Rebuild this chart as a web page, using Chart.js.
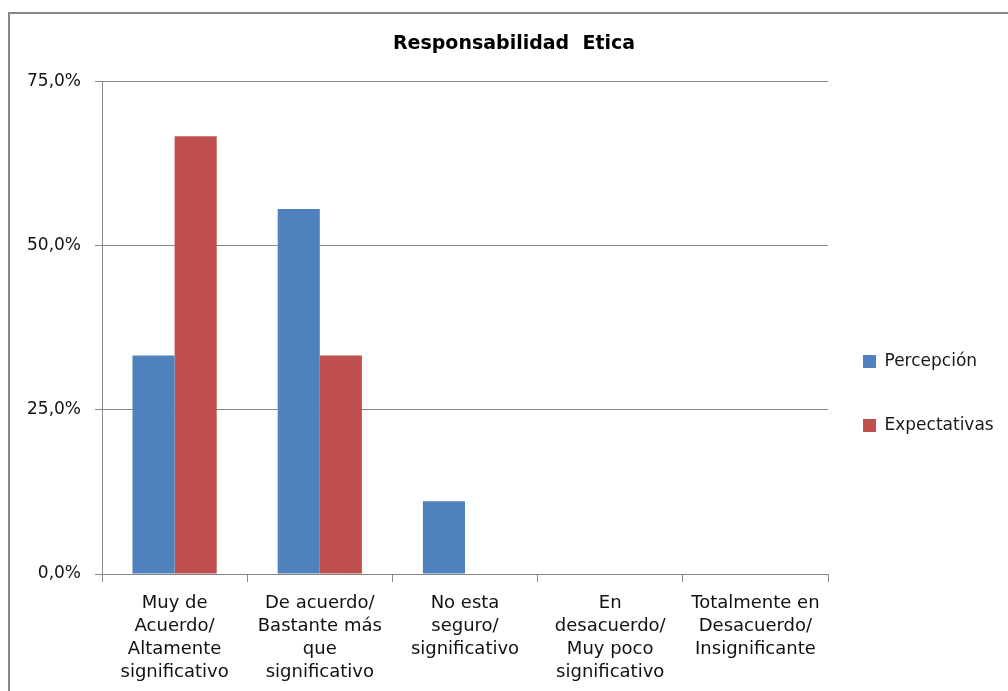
<!DOCTYPE html>
<html>
<head>
<meta charset="utf-8">
<script src="https://cdn.jsdelivr.net/npm/chart.js@4"></script>
<style>
  html, body { margin: 0; padding: 0; background: #fff; }
  #wrap { width: 1008px; height: 691px; }
</style>
</head>
<body>
<div id="wrap"><canvas id="myChart" width="1008" height="691"></canvas></div>
<script>
const categories = [
    ['Muy de', 'Acuerdo/', 'Altamente', 'significativo'],
    ['De acuerdo/', 'Bastante más', 'que', 'significativo'],
    ['No esta', 'seguro/', 'significativo'],
    ['En', 'desacuerdo/', 'Muy poco', 'significativo'],
    ['Totalmente en', 'Desacuerdo/', 'Insignificante']
]
const percepcion = [33.3, 55.6, 11.1, 0, 0]
const expectativas = [66.7, 33.3, 0, 0, 0]
const yTicks = [0, 25, 50, 75]

const gridColor = '#868686'
const fontFamily = "'DejaVu Sans', sans-serif"

// grey frame round the chart (left and top edges show in the picture)
const framePlugin = {
    id: 'frame',
    beforeDraw: function(chart) {
        const ctx = chart.ctx
        ctx.save()
        ctx.strokeStyle = '#878787'
        ctx.lineWidth = 2
        ctx.beginPath()
        ctx.moveTo(9, 691)
        ctx.lineTo(9, 13)
        ctx.lineTo(1008, 13)
        ctx.stroke()
        ctx.restore()
    }
}

// nudge legend toward the plot and down, like the original
const legendNudge = {
    id: 'legendNudge',
    afterLayout: function(chart) {
        if (chart.legend) {
            chart.legend.left -= 12
            chart.legend.right -= 12
            chart.legend.top += 38
            chart.legend.bottom += 38
        }
    }
}

const ctx = document.getElementById('myChart')
const myChart = new Chart(ctx, {
    type: 'bar',
    data: {
        labels: categories,
        datasets: [{
            label: 'Percepción',
            data: percepcion,
            backgroundColor: '#4F81BD',
            categoryPercentage: 0.58,
            barPercentage: 1
        }, {
            label: 'Expectativas',
            data: expectativas,
            backgroundColor: '#C0504D',
            categoryPercentage: 0.58,
            barPercentage: 1
        }]
    },
    plugins: [framePlugin, legendNudge],
    options: {
        responsive: false,
        animation: false,
        layout: {
            padding: { left: 20, right: 0, top: 20, bottom: 0 }
        },
        plugins: {
            title: {
                display: true,
                text: 'Responsabilidad  Etica',
                color: '#000',
                font: { family: fontFamily, size: 19, weight: 'bold', lineHeight: 1.2 },
                padding: { top: 13, bottom: 26 }
            },
            legend: {
                position: 'right',
                maxWidth: 180,
                labels: {
                    color: '#1a1a1a',
                    boxWidth: 13,
                    boxHeight: 13,
                    padding: 47,
                    font: { family: fontFamily, size: 17 }
                }
            },
            tooltip: { enabled: false }
        },
        scales: {
            x: {
                afterFit: function(s) { s.height = 117 },
                grid: {
                    display: true,
                    offset: true,
                    drawOnChartArea: false,
                    drawTicks: true,
                    tickLength: 8,
                    color: gridColor
                },
                border: { display: true, color: gridColor },
                ticks: {
                    color: '#111',
                    maxRotation: 0,
                    autoSkip: false,
                    padding: 10,
                    font: { family: fontFamily, size: 18, lineHeight: 1.28 }
                }
            },
            y: {
                min: 0,
                max: 75,
                afterFit: function(s) { s.width = 82 },
                afterBuildTicks: function(s) {
                    s.ticks = yTicks.map(v => ({ value: v }))
                },
                grid: {
                    color: gridColor,
                    drawTicks: true,
                    tickLength: 7
                },
                border: { display: true, color: gridColor },
                ticks: {
                    color: '#111',
                    padding: 14,
                    font: { family: fontFamily, size: 17 },
                    callback: function(v) {
                        return v.toFixed(1).replace('.', ',') + '%'
                    }
                }
            }
        }
    }
})
</script>
</body>
</html>
